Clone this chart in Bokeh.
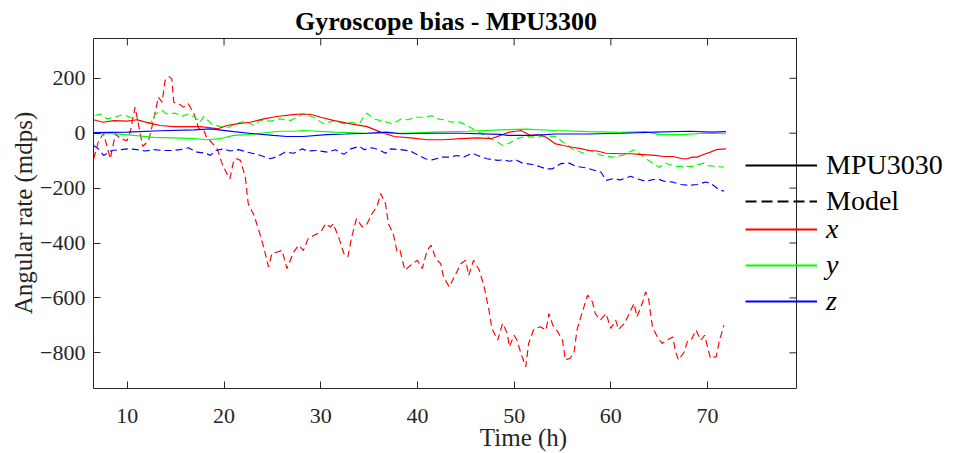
import math
from bokeh.plotting import figure
from bokeh.models import Range1d, LinearAxis, FixedTicker, Legend, LegendItem, Span
from bokeh.embed import file_html
from bokeh.resources import INLINE

FONT = "Liberation Serif"
AXC = "#262626"
NAN = float("nan")

# ---------------- data ----------------
x_ticks = [10, 20, 30, 40, 50, 60, 70]
y_ticks = [-800, -600, -400, -200, 0, 200]
x_lo, x_hi = 6.5, 79.2
y_lo, y_hi = -930, 345

# x axis, MPU3030 (solid red)
t_x_mpu = [6.5, 7.5, 8.6, 10.0, 11.0, 12.4, 13.4, 14.8, 16.2, 17.5, 18.6, 19.4, 20.3, 21.3,
           22.7, 24.1, 25.5, 26.9, 27.9, 29.0, 30.0, 31.4, 33.1, 34.8, 36.2, 37.6, 39.3,
           41.0, 42.7, 44.5, 46.2, 47.6, 48.6, 49.5, 50.2, 50.7, 51.7, 52.6, 53.3, 54.3,
           55.1, 56.0, 56.9, 57.7, 58.6, 59.5, 61.2, 62.1, 62.9, 64.6, 65.5, 66.4, 67.4,
           67.9, 68.4, 68.9, 69.8, 70.3, 70.9, 71.9]
x_mpu = [49, 40, 46, 44, 49, 36, 28, 24, 24, 24, 20, 16, 28, 34,
         40, 52, 61, 67, 70, 68, 58, 46, 34, 24, 4, -12, -17,
         -24, -24, -20, -17, -20, -8, 4, 7, 10, -8, -5, -15, -39,
         -45, -51, -56, -63, -65, -73, -75, -75, -77, -81, -85, -85, -93,
         -93, -87, -87, -75, -69, -60, -57]

# x axis, Model (dashed red)
t_x_mod = [6.52, 7.03, 7.55, 8.24, 8.76, 9.28, 9.97, 10.3, 10.8, 11.2, 11.6, 12.2, 12.7, 13.2,
           13.6, 13.9, 14.3, 14.6, 14.8, 15.3, 15.8, 16.3, 16.9, 17.4, 17.9, 18.2, 18.7, 19.3,
           19.8, 20.3, 20.6, 21.0, 21.3, 21.7, 22.2, 22.5, 23.1, 23.6, 24.1, 24.6, 24.95,
           25.5, 26.0, 26.5, 27.2, 27.7, 28.2, 28.7, 29.3, 30.0, 30.5, 31.0, 31.3, 31.9,
           32.4, 32.8, 33.2, 33.7, 34.3, 34.8, 35.3, 35.8, 36.2, 36.7, 37.0, 37.5, 37.9,
           38.2, 38.7, 39.3, 40.0, 40.5, 41.0, 41.4, 41.9, 42.4, 42.7, 43.3, 43.8, 44.5,
           45.0, 45.3, 45.8, 46.4, 46.9, 47.4, 47.7, 48.3, 48.8, 49.3, 49.5, 50.0, 50.3,
           50.7, 51.2, 51.5, 52.0, 52.7, 53.3, 53.6, 54.0, 54.5, 55.0, 55.3, 55.8, 56.2,
           56.5, 57.0, 57.6, 58.1, 58.4, 58.9, 59.5, 60.0, 60.5, 60.8, 61.4, 61.9, 62.4,
           62.7, 63.3, 63.6, 63.9, 64.3, 64.8, 65.3, 65.8, 66.4, 66.7, 67.0, 67.6, 67.9,
           68.3, 68.8, 69.3, 69.7, 70.0, 70.3, 70.9, 71.2, 71.7]
x_mod = [-93, -27, -2, -93, -2, -20, -27, 4, 95, 22, -48, -27, 46, 131,
         113, 192, 206, 198, 113, 107, 95, 107, 70, 16, 10, -15, -33, -57,
         -111, -148, -166, -99, -93, -99, -160, -257, -299, -354, -415, -487, -439,
         -433, -427, -493, -433, -408, -427, -384, -372, -360, -330, -342, -330, -384,
         -439, -451, -378, -311, -342, -330, -293, -269, -220, -257, -330, -366, -433,
         -427, -499, -481, -463, -493, -427, -408, -457, -475, -524, -560, -524, -475,
         -463, -518, -463, -499, -560, -645, -711, -754, -693, -729, -778, -736, -754,
         -802, -851, -766, -717, -705, -717, -657, -699, -723, -754, -826, -820, -796,
         -717, -657, -590, -615, -657, -681, -657, -711, -681, -715, -693, -657, -620,
         -669, -615, -578, -602, -705, -742, -766, -754, -742, -796, -826, -796, -760,
         -754, -717, -754, -736, -778, -820, -814, -760, -699]

# y axis, MPU3030 (solid green)
t_y_mpu = [6.5, 8.6, 10.65, 12.7, 14.8, 16.9, 18.2, 19.6, 21.0, 22.4, 23.75, 25.8, 27.2,
           28.2, 31.4, 34.8, 38.3, 41.7, 45.2, 48.6, 51.2, 54.3, 57.7, 61.2, 63.6, 65.0,
           67.3, 69.6, 71.9]
y_mpu = [-2, -2, -8, -15, -17, -20, -24, -20, -8, -5, 0, 7, 7,
         10, 4, 0, 0, 4, 7, 12, 15, 10, 6, 3, 6, -5,
         -5, 0, -2]

# y axis, Model (dashed green)
t_y_mod = [6.7, 7.2, 7.9, 8.6, 9.6, 10.3, 11.0, 11.7, 12.4, 12.9, 13.6, 14.1, 15.0, 15.6,
           16.3, 17.0, 17.5, 17.9, 18.7, 19.6, 20.5, 21.3, 22.2, 23.1, 23.75, 24.8, 25.8,
           26.9, 27.5, 28.2, 29.3, 30.3, 31.4, 32.4, 33.1, 34.0, 34.5, 34.8, 35.5, 36.2,
           36.9, 37.4, 38.3, 39.0, 39.8, 40.7, 41.5, 42.1, 42.7, 43.6, 44.1, 44.8, 48.9,
           49.5, 50.5, 51.2, 52.4, 53.0, 54.3, 55.1, 56.0, 57.2, 57.6, 59.1, 60.2, 61.2,
           62.4, 63.8, 65.0, 65.6, 66.7, 68.4, 69.6, 70.1, 71.7]
y_mod = [64, 70, 52, 58, 68, 58, 49, 40, 36, 70, 83, 70, 73, 61,
         70, 58, 40, 61, 34, 24, 22, 36, 44, 28, 46, 44, 52,
         46, 58, 70, 58, 34, 46, 34, 40, 34, 64, 73, 52, 46,
         40, 34, 52, 49, 58, 58, 64, 52, 49, 40, 44, 34, -45,
         -36, -17, -12, -15, -10, -12, -33, -57, -73, -60, -81, -87, -81,
         -60, -97, -124, -109, -121, -121, -109, -118, -124]

# z axis, MPU3030 (solid blue)
t_z_mpu = [6.5, 10.0, 13.4, 16.9, 18.6, 21.0, 23.1, 25.1, 26.5, 28.2, 30.6, 32.5, 34.8,
           36.8, 38.3, 41.7, 44.5, 48.6, 49.3, 51.9, 54.3, 57.7, 61.2, 64.6, 68.1, 70.5,
           71.9]
z_mpu = [2, 4, 9, 12, 16, 6, -2, -8, -12, -12, -5, -3, 0,
         4, -2, 0, 0, -4, -8, -8, -3, -3, 0, 4, 7, 4,
         6]

# z axis, Model (dashed blue)
t_z_mod = [6.5, 7.0, 7.55, 8.4, 9.3, 10.1, 11.0, 11.9, 12.7, 13.75, 14.6, 15.5, 16.3, 17.2,
           18.1, 18.6, 19.1, 20.0, 20.6, 21.5, 22.4, 23.4, 24.1, 24.8, 25.5, 26.3, 27.2,
           28.1, 28.6, 29.6, 30.7, 31.5, 32.4, 33.1, 34.0, 34.5, 35.3, 36.0, 36.7, 37.2,
           38.3, 39.3, 39.8, 40.8, 41.5, 42.6, 43.3, 44.1, 44.8, 45.7, 46.2, 47.2, 48.3,
           48.9, 49.5, 50.2, 50.85, 51.9, 52.6, 53.3, 53.95, 54.8, 55.7, 56.4, 57.4, 58.1,
           59.0, 59.5, 60.2, 61.0, 62.05, 62.7, 63.6, 64.8, 65.5, 66.4, 67.2, 68.1, 68.9,
           69.8, 70.3, 71.2, 71.7]
z_mod = [-45, -57, -81, -63, -60, -57, -60, -65, -60, -63, -63, -60, -53, -69,
         -73, -81, -63, -57, -65, -60, -69, -77, -85, -93, -85, -69, -73,
         -57, -65, -63, -69, -60, -77, -57, -48, -60, -53, -60, -73, -57,
         -60, -65, -75, -93, -97, -87, -87, -81, -87, -73, -81, -93, -99,
         -97, -102, -97, -109, -114, -121, -130, -130, -111, -109, -121, -126, -133,
         -142, -172, -166, -170, -157, -166, -175, -166, -175, -178, -187, -190, -187,
         -178, -182, -206, -211]

legend_labels_a = ["MPU3030", "Model"]
legend_labels_b = ["x", "y", "z"]
axis_colors = ["#ff0000", "#00ff00", "#0000ff"]

# ---------------- layout constants (pixels) ----------------
W, H = 953, 453
LEFT, TOP, BOTTOM = 93, 38, 65
BOX_W = 703                      # width of the drawn axes box
FRAME_W = W - LEFT               # frame runs to the canvas edge so the legend is not clipped
BOX_H = H - TOP - BOTTOM
x_end = x_lo + (x_hi - x_lo) * FRAME_W / BOX_W
y_end = y_hi + (y_hi - y_lo) / BOX_H * 1.0   # 1 px headroom so the top edge line is not clipped

p = figure(width=W, height=H,
           x_range=Range1d(x_lo, x_end), y_range=Range1d(y_lo, y_end),
           x_axis_type=None, y_axis_type=None,
           output_backend="svg", toolbar_location=None,
           min_border_left=LEFT, min_border_right=0,
           min_border_top=TOP - 1, min_border_bottom=BOTTOM,
           background_fill_color="white", border_fill_color="white")
p.outline_line_color = None
p.title.text = "Gyroscope bias - MPU3300"
p.title.text_font = FONT
p.title.text_font_size = "26px"
p.title.text_font_style = "bold"
p.title.text_color = "black"
p.title.align = "left"
p.title.offset = (BOX_W - 300) / 2
p.title.standoff = 4


def make_axis(ticks, label, bounds):
    ax = LinearAxis(ticker=FixedTicker(ticks=ticks), bounds=bounds)
    ax.axis_line_color = AXC
    ax.axis_line_width = 1
    ax.major_tick_line_color = AXC
    ax.major_tick_in = 7
    ax.major_tick_out = 0
    ax.minor_tick_line_color = None
    ax.major_label_text_font = FONT
    ax.major_label_text_color = AXC
    ax.major_label_text_font_size = "22px"
    ax.axis_label = label
    ax.axis_label_text_font = FONT
    ax.axis_label_text_font_size = "25px"
    ax.axis_label_text_font_style = "normal"
    ax.axis_label_text_color = AXC
    return ax


ax_b = make_axis(x_ticks, "Time (h)", (x_lo, x_hi))
ax_b.major_label_standoff = 20
ax_b.axis_label_standoff = -2
ax_l = make_axis(y_ticks, "Angular rate (mdps)", (y_lo, y_hi))
ax_l.major_label_standoff = 8
ax_l.axis_label_standoff = 0
p.add_layout(ax_b, "below")
p.add_layout(ax_l, "left")

# top and right edges of the axes box, with inward ticks
p.segment(x0=[x_lo], y0=[y_hi], x1=[x_hi], y1=[y_hi], line_color=AXC, line_width=1)
p.ray(x=x_ticks, y=[y_hi] * len(x_ticks), length=7, length_units="screen",
      angle=-math.pi / 2, line_color=AXC, line_width=1)
p.add_layout(Span(location=x_hi, dimension="height", line_color=AXC, line_width=1))
p.ray(x=[x_hi] * len(y_ticks), y=y_ticks, length=7, length_units="screen",
      angle=math.pi, line_color=AXC, line_width=1)

DASH = "7 4"
LW = 1.15
p.line(t_x_mod, x_mod, line_color=axis_colors[0], line_width=LW, line_dash=DASH)
p.line(t_y_mod, y_mod, line_color=axis_colors[1], line_width=LW, line_dash=DASH)
p.line(t_z_mod, z_mod, line_color=axis_colors[2], line_width=LW, line_dash=DASH)
p.line(t_x_mpu, x_mpu, line_color=axis_colors[0], line_width=LW)
p.line(t_y_mpu, y_mpu, line_color=axis_colors[1], line_width=LW)
p.line(t_z_mpu, z_mpu, line_color=axis_colors[2], line_width=LW)

# legend proxies (renderers with no drawable data)
r_solid = p.line(x=[NAN], y=[NAN], line_color="black", line_width=2.2)
r_dash = p.line(x=[NAN], y=[NAN], line_color="black", line_width=2.2, line_dash="11 5")
r_axes = [p.line(x=[NAN], y=[NAN], line_color=c, line_width=2.2) for c in axis_colors]


def style_legend(leg, italic=False):
    leg.label_text_font = FONT
    leg.label_text_font_size = "28px"
    leg.label_text_color = "black"
    leg.label_text_font_style = "italic" if italic else "normal"
    leg.glyph_width = 72
    leg.glyph_height = 36
    leg.label_height = 36
    leg.label_standoff = 9
    leg.spacing = 0
    leg.padding = 0
    leg.margin = 0
    leg.border_line_color = None
    leg.background_fill_alpha = 0
    return leg


leg_a = style_legend(Legend(items=[LegendItem(label=l, renderers=[r]) for l, r in
                                   zip(legend_labels_a, [r_solid, r_dash])],
                            location=(652, 169)))
leg_b = style_legend(Legend(items=[LegendItem(label=l, renderers=[r]) for l, r in
                                   zip(legend_labels_b, r_axes)],
                            location=(652, 69)), italic=True)
p.add_layout(leg_a)
p.add_layout(leg_b)

open("out.html", "w").write(file_html(p, INLINE))
